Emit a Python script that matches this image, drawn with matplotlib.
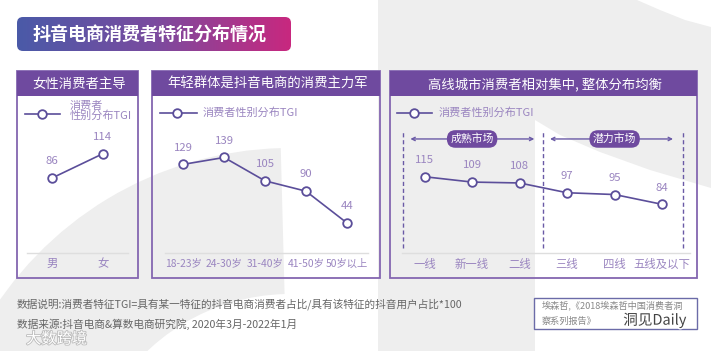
import numpy as np
import matplotlib
matplotlib.use('Agg')
import matplotlib.pyplot as plt
from matplotlib.patches import Rectangle, FancyBboxPatch, Wedge, Polygon
from matplotlib.colors import LinearSegmentedColormap
import matplotlib.patheffects as pe

plt.rcParams['font.family'] = ['Noto Sans CJK SC', 'DejaVu Sans']

# chart data
gender = ['男', '女']
gender_tgi = [86, 114]
age = ['18-23岁', '24-30岁', '31-40岁', '41-50岁', '50岁以上']
age_tgi = [129, 139, 105, 90, 44]
city = ['一线', '新一线', '二线', '三线', '四线', '五线及以下']
city_tgi = [115, 109, 108, 97, 95, 84]

title = '抖音电商消费者特征分布情况'
headers = ['女性消费者主导', '年轻群体是抖音电商的消费主力军', '高线城市消费者相对集中, 整体分布均衡']
legend_labels = ['消费者\n性别分布TGI', '消费者性别分布TGI', '消费者性别分布TGI']
markets = ['成熟市场', '潜力市场']
note = '数据说明:消费者特征TGI=具有某一特征的抖音电商消费者占比/具有该特征的抖音用户占比*100'
source = '数据来源:抖音电商&算数电商研究院, 2020年3月-2022年1月'
ref_lines = ['埃森哲,《2018埃森哲中国消费者洞', '察系列报告》']

# colours
PURPLE = '#6f4a9f'
FRAME = '#8466b0'
LINE = '#5b4e9a'
LABEL = '#9a85c0'
GREY_BG = '#eeeeee'

W, H = 711, 351
fig = plt.figure(figsize=(W / 100, H / 100), dpi=100)

# background axes in pixel coordinates
bg = fig.add_axes([0, 0, 1, 1])
bg.set_xlim(0, W)
bg.set_ylim(H, 0)
bg.axis('off')

# decorative grey shapes
bg.add_patch(Wedge((290, 501), 353, 150, 268.5, width=146, fc=GREY_BG, ec='none', zorder=0))
shape = [(378, 0), (637, 0), (660, 10), (685, 20), (711, 27), (711, 188),
         (650, 170), (600, 152), (560, 135), (535, 120), (535, H), (378, H)]
bg.add_patch(Polygon(shape, closed=True, fc=GREY_BG, ec='none', zorder=0))

# title banner with gradient
banner = FancyBboxPatch((17, 17), 274, 34, boxstyle='round,pad=0,rounding_size=6',
                        fc='none', ec='none', zorder=2)
bg.add_patch(banner)
cmap = LinearSegmentedColormap.from_list('ttl', ['#4a5aa8', '#7a4b9f', '#c8287f'])
grad = bg.imshow(np.linspace(0, 1, 256)[None, :], cmap=cmap, aspect='auto',
                 extent=(17, 291, 51, 17), zorder=2)
grad.set_clip_path(banner)
bg.text(33, 34, title, color='white', fontsize=13, fontweight='bold', va='center', ha='left', zorder=3)

# panel frames and headers
panels = [(17, 138), (152, 380), (390, 697)]
for (x0, x1), head in zip(panels, headers):
    bg.add_patch(Rectangle((x0, 71), x1 - x0, 207, fc='none', ec=FRAME, lw=1.3, zorder=2))
    bg.add_patch(Rectangle((x0, 71), x1 - x0, 25, fc=PURPLE, ec='none', zorder=2))
    bg.text((x0 + x1) / 2 + 2, 84, head, color='white', fontsize=9.6, ha='center', va='center', zorder=3)

# legend samples
legends = [(25, 60, 42, 70, 111), (160, 197, 177, 203, 113), (397, 432, 414, 439, 113)]
for (l0, l1, lm, tx, ty), lab in zip(legends, legend_labels):
    ly = 114 if '\n' in lab else ty
    bg.plot([l0, l1], [ly, ly], color=LINE, lw=1.2, zorder=3)
    bg.plot(lm, ly, 'o', ms=6.2, mfc='white', mec=LINE, mew=1.3, zorder=4)
    bg.text(tx, ty, lab, color=LABEL, fontsize=8, ha='left', va='center', linespacing=1.0, zorder=3)

# footer
bg.text(17, 304, note, color='#666666', fontsize=7.7, ha='left', va='center')
bg.text(17, 324, source, color='#666666', fontsize=7.7, ha='left', va='center')
bg.add_patch(Rectangle((534, 298), 163, 31, fc='white', ec='#6b6ba8', lw=1))
bg.text(542, 305, ref_lines[0], color='#888888', fontsize=6.6, ha='left', va='center')
bg.text(542, 321, ref_lines[1], color='#888888', fontsize=6.6, ha='left', va='center')
bg.text(655, 320, '洞见Daily', color='#444444', fontsize=10.5, ha='center', va='center',
        path_effects=[pe.withStroke(linewidth=2, foreground='white')])
bg.text(26, 339, '大数跨境', color='white', fontsize=11, ha='left', va='center',
        path_effects=[pe.withStroke(linewidth=1.2, foreground='#bbbbbb')])


def make_ax(px0, px1, xlim, ylim, tick_size):
    top, bottom = 97, 253
    ax = fig.add_axes([px0 / W, 1 - bottom / H, (px1 - px0) / W, (bottom - top) / H])
    ax.patch.set_alpha(0)
    ax.set_xlim(*xlim)
    ax.set_ylim(*ylim)
    for s in ['top', 'left', 'right']:
        ax.spines[s].set_visible(False)
    ax.spines['bottom'].set_color('#dedede')
    ax.spines['bottom'].set_linewidth(1)
    ax.set_yticks([])
    ax.tick_params(axis='x', length=0, pad=4, labelsize=tick_size, labelcolor=LABEL)
    return ax


def draw_series(ax, cats, vals):
    x = np.arange(len(cats))
    ax.plot(x, vals, color=LINE, lw=1.2, marker='o', ms=6.2, mfc='white', mec=LINE, mew=1.3, zorder=5)
    for xi, v in zip(x, vals):
        ax.annotate(str(v), (xi, v), xytext=(0, 12), textcoords='offset points',
                    ha='center', va='center', fontsize=8.2, color=LABEL)
    ax.set_xticks(x)
    ax.set_xticklabels(cats)


ax1 = make_ax(27, 128, (-0.49, 1.49), (0, 179), 8.2)
draw_series(ax1, gender, gender_tgi)

ax2 = make_ax(165, 368, (-0.448, 4.521), (0, 227), 7.4)
draw_series(ax2, age, age_tgi)

ax3 = make_ax(402, 690, (-0.476, 5.587), (29.3, 204.6), 8.2)
draw_series(ax3, city, city_tgi)

# market groups in the city panel
tr = ax3.get_xaxis_transform()
ax3.vlines([-0.45, 2.5, 5.45], 0.03, 0.78, transform=tr, colors='#6a5aa6',
           linestyles=(0, (3, 2)), lw=1)
for (a, b), name, mid in zip([(-0.3, 2.31), (2.64, 5.23)], markets, [1, 4]):
    ax3.annotate('', xy=(b, 0.731), xytext=(a, 0.731), xycoords=tr, textcoords=tr,
                 arrowprops=dict(arrowstyle='<->', color='#6a5aa6', lw=1,
                                 shrinkA=0, shrinkB=0, mutation_scale=6))
    ax3.text(mid, 0.731, name, transform=tr, ha='center', va='center', color='white', fontsize=7.8,
             bbox=dict(boxstyle='round,pad=0.32,rounding_size=0.8', fc=PURPLE, ec='none'))

fig.savefig('out.png', dpi=100)
